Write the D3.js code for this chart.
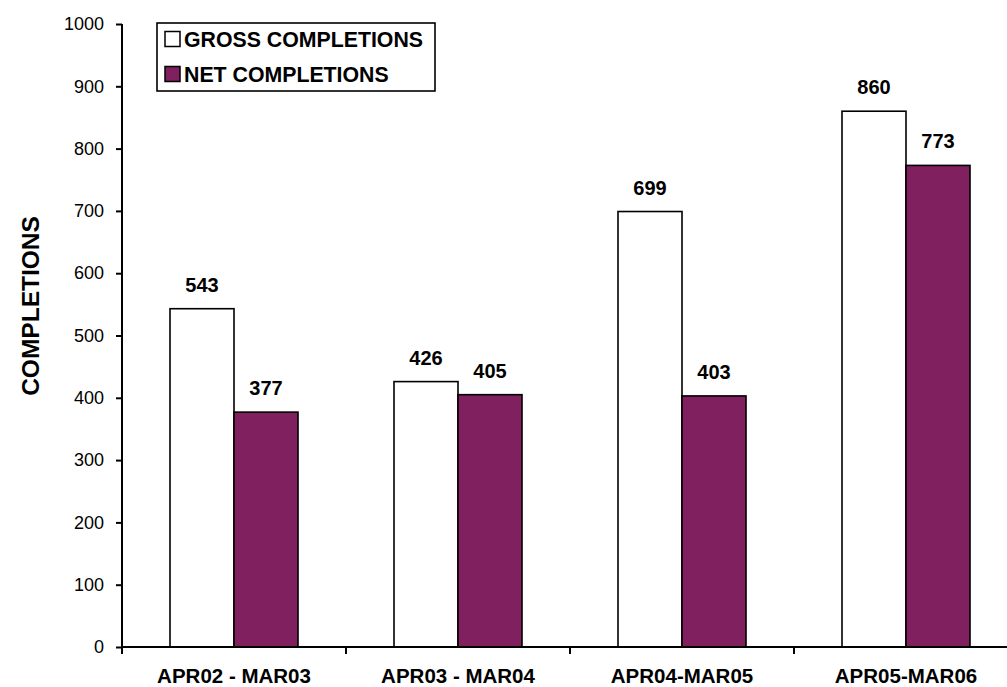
<!DOCTYPE html>
<html><head><meta charset="utf-8">
<script src="https://cdn.jsdelivr.net/npm/d3@7/dist/d3.min.js"></script>
<style>body{margin:0;background:#fff;} svg{display:block;font-family:"Liberation Sans",Arial,sans-serif;}</style>
</head><body>
<svg id="c" width="1007" height="687"></svg>
<script>
const categories = ["APR02 - MAR03", "APR03 - MAR04", "APR04-MAR05", "APR05-MAR06"];
const seriesNames = ["GROSS COMPLETIONS", "NET COMPLETIONS"];
const gross = [543, 426, 699, 860];
const net = [377, 405, 403, 773];
const yTicks = [0, 100, 200, 300, 400, 500, 600, 700, 800, 900, 1000];
const colors = ["#ffffff", "#81205f"];

const svg = d3.select("#c");
const x0 = d3.scaleBand().domain(categories).range([122, 1018]).padding(0);
const x1 = d3.scaleBand().domain(seriesNames).range([48, 176]).padding(0);
const y = d3.scaleLinear().domain([0, 1000]).range([647, 24]);

const data = categories.map((c, i) => ({cat: c, vals: [
  {s: seriesNames[0], v: gross[i], fill: colors[0]},
  {s: seriesNames[1], v: net[i], fill: colors[1]}]}));

const g = svg.selectAll("g.grp").data(data).join("g")
  .attr("transform", d => `translate(${x0(d.cat)},0)`);
g.selectAll("rect").data(d => d.vals).join("rect")
  .attr("x", d => x1(d.s)).attr("width", x1.bandwidth())
  .attr("y", d => y(d.v)).attr("height", d => y(0) - y(d.v))
  .attr("fill", d => d.fill).attr("stroke", "#000").attr("stroke-width", 1.6);
g.selectAll("text").data(d => d.vals).join("text")
  .attr("x", d => x1(d.s) + x1.bandwidth() / 2)
  .attr("y", d => y(d.v) - 17)
  .attr("text-anchor", "middle").attr("font-weight", "bold").attr("font-size", 20)
  .text(d => d.v);

// Y axis
const ya = svg.append("g").attr("transform", "translate(122,0)")
  .call(d3.axisLeft(y).tickValues(yTicks).tickSize(6).tickPadding(12).tickFormat(d3.format("d")));
ya.select(".domain").attr("stroke", "#000").attr("stroke-width", 2).attr("d", `M0,${y(1000)}V${y(0)}`);
ya.selectAll(".tick line").attr("stroke", "#000").attr("stroke-width", 2);
ya.selectAll(".tick text").attr("font-size", 18).attr("font-family", "Liberation Sans, Arial, sans-serif").attr("fill", "#000");

// X axis
const xa = svg.append("g").attr("transform", `translate(0,${y(0)})`)
  .call(d3.axisBottom(x0).tickSize(0).tickPadding(0));
xa.select(".domain").attr("stroke", "#000").attr("stroke-width", 2).attr("d", "M122,0H1018");
xa.selectAll(".tick text").attr("font-size", 20.5).attr("font-weight", "bold")
  .attr("font-family", "Liberation Sans, Arial, sans-serif").attr("fill", "#000")
  .attr("dy", null).attr("y", 36);
const bounds = categories.map(c => x0(c)).concat([x0.range()[1]]);
svg.append("g").selectAll("line").data(bounds).join("line")
  .attr("x1", d => d).attr("x2", d => d).attr("y1", y(0)).attr("y2", y(0) + 7)
  .attr("stroke", "#000").attr("stroke-width", 2);

// Y title
svg.append("text").attr("transform", "translate(39,306) rotate(-90)")
  .attr("text-anchor", "middle").attr("font-weight", "bold").attr("font-size", 24.5)
  .text("COMPLETIONS");

// Legend
const lg = svg.append("g");
lg.append("rect").attr("x", 157).attr("y", 23).attr("width", 278).attr("height", 68)
  .attr("fill", "#fff").attr("stroke", "#000").attr("stroke-width", 1.6);
seriesNames.forEach((s, i) => {
  const cy = 39 + i * 35;
  lg.append("rect").attr("x", 165).attr("y", cy - 7.5).attr("width", 15).attr("height", 15)
    .attr("fill", colors[i]).attr("stroke", "#000").attr("stroke-width", 1.5);
  lg.append("text").attr("x", 184).attr("y", cy + 7.5).attr("font-weight", "bold")
    .attr("font-size", 21.3).text(s);
});
</script>
</body></html>
